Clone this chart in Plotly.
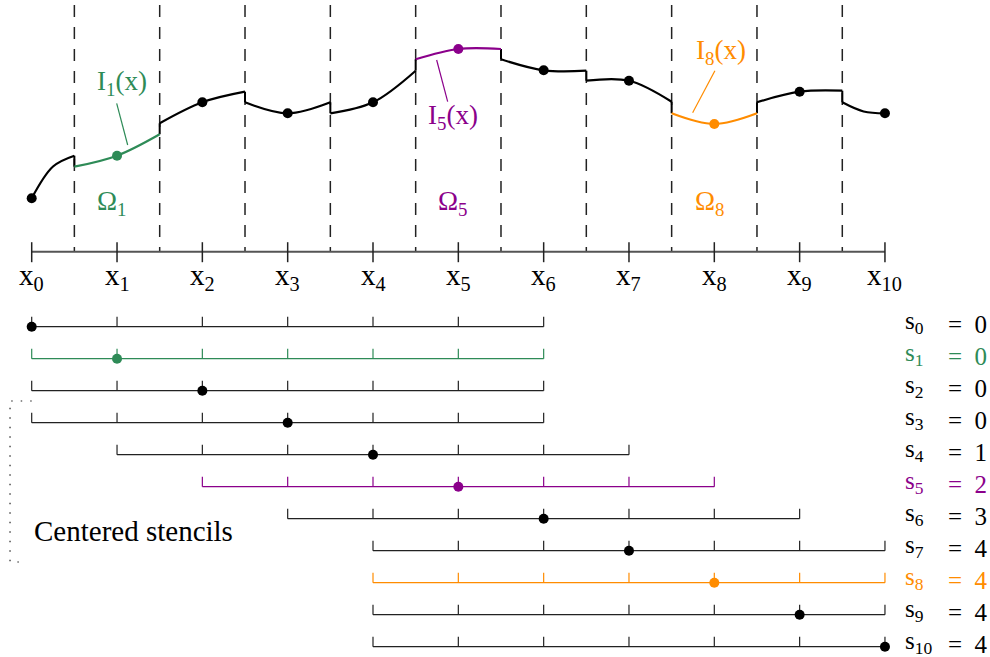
import plotly.graph_objects as go

# ---------------- data ----------------
nodes = list(range(11))
node_labels = [f"x<sub>{i}</sub>" for i in nodes]

# piecewise reconstruction per cell: value at left edge, centre, right edge
cell_values = [
    [53.4, 85.2, 96.0],
    [85.0, 96.0, 117.4],
    [128.4, 149.4, 160.0],
    [149.4, 138.4, 149.4],
    [138.4, 149.4, 181.0],
    [192.4, 202.7, 202.7],
    [192.4, 181.4, 181.0],
    [171.0, 171.0, 150.0],
    [138.4, 127.7, 138.4],
    [149.4, 160.0, 161.0],
    [149.4, 140.2, 138.4],
]
highlight = {1: "#2e8b57", 5: "#8b008b", 8: "#ff8c00"}
stencil_start = [0, 0, 0, 0, 1, 2, 3, 4, 4, 4, 4]
stencil_width = 6
s_labels = [f"s<sub>{i}</sub>" for i in nodes]

# ---------------- layout helpers ----------------
N = 10
row_y0, row_dy = -75.0, -32.0
BLACK = "#000000"
GRAY = "#555555"
FONT = "Liberation Serif"

def cell_span(k):
    return max(k - 0.5, 0), min(k + 0.5, N)

fig = go.Figure()

# dashed cell boundaries
for k in range(N):
    xb = k + 0.5
    fig.add_trace(go.Scatter(x=[xb, xb], y=[246.7, 0], mode="lines",
                             line=dict(color="#222222", width=1.5, dash="12px,10px"),
                             hoverinfo="skip", showlegend=False))

# axis line and node ticks
fig.add_trace(go.Scatter(x=[nodes[0], nodes[-1]], y=[0, 0], mode="lines",
                         line=dict(color=GRAY, width=2), hoverinfo="skip", showlegend=False))
tx, ty = [], []
for i in nodes:
    tx += [i, i, None]
    ty += [9.5, -10.5, None]
fig.add_trace(go.Scatter(x=tx, y=ty, mode="lines", line=dict(color="#222222", width=1.5),
                         hoverinfo="skip", showlegend=False))

# jumps between pieces
jx, jy = [], []
for k in range(N):
    jx += [k + 0.5, k + 0.5, None]
    jy += [cell_values[k][2], cell_values[k + 1][0], None]
fig.add_trace(go.Scatter(x=jx, y=jy, mode="lines", line=dict(color=BLACK, width=2),
                         hoverinfo="skip", showlegend=False))

# pieces
dot_x, dot_y, dot_c = [], [], []
for k in range(N + 1):
    a, b = cell_span(k)
    col = highlight.get(k, BLACK)
    fig.add_trace(go.Scatter(x=[a, (a + b) / 2, b], y=cell_values[k], mode="lines",
                             line=dict(color=col, width=2.2, shape="spline", smoothing=1.0),
                             hoverinfo="skip", showlegend=False))
    if k == 0:
        v = cell_values[k][0]
    elif k == N:
        v = cell_values[k][2]
    else:
        v = cell_values[k][1]
    dot_x.append(nodes[k]); dot_y.append(v); dot_c.append(col)
fig.add_trace(go.Scatter(x=dot_x, y=dot_y, mode="markers", cliponaxis=False,
                         marker=dict(color=dot_c, size=10, line=dict(width=0)),
                         hoverinfo="skip", showlegend=False))

# stencils
sx, sy, sc = [], [], []
for k in nodes:
    y = row_y0 + row_dy * k
    s = stencil_start[k]
    col = highlight.get(k, BLACK)
    px_, py_ = [s, s + stencil_width, None], [y, y, None]
    for j in range(s, s + stencil_width + 1):
        px_ += [j, j, None]
        py_ += [y, y + 10, None]
    fig.add_trace(go.Scatter(x=px_, y=py_, mode="lines",
                             line=dict(color=col if k in highlight else "#222222", width=1.2),
                             hoverinfo="skip", showlegend=False))
    sx.append(nodes[k]); sy.append(y); sc.append(col)
fig.add_trace(go.Scatter(x=sx, y=sy, mode="markers", cliponaxis=False,
                         marker=dict(color=sc, size=10, line=dict(width=0)),
                         hoverinfo="skip", showlegend=False))

# bracket for centered stencils
fig.add_trace(go.Scatter(x=[0.0, -0.254, -0.254, -0.09], y=[-149.3, -149.3, -310.3, -310.3],
                         mode="lines", line=dict(color="#222222", width=1.2, dash="1.5px,8px"),
                         hoverinfo="skip", showlegend=False))

# leader lines
leaders = [((0.996, 148.4), (1.125, 106.7), 1),
           ((4.746, 191.7), (4.875, 150.0), 5),
           ((8.007, 181.0), (7.746, 139.0), 8)]
for (x1, y1), (x2, y2), k in leaders:
    fig.add_trace(go.Scatter(x=[x1, x2], y=[y1, y2], mode="lines",
                             line=dict(color=highlight[k], width=1.2),
                             hoverinfo="skip", showlegend=False))

ann = []
def A(x, y, text, color=BLACK, size=24, xanchor="center"):
    ann.append(dict(x=x, y=y, xref="x", yref="y", text=text, showarrow=False,
                    xanchor=xanchor, yanchor="middle",
                    font=dict(family=FONT, size=size, color=color)))

for i in nodes:
    A(i, -25, node_labels[i], size=29)

A(1.058, 168.7, "I<sub>1</sub>(x)", highlight[1], 27)
A(4.937, 134.7, "I<sub>5</sub>(x)", highlight[5], 27)
A(8.078, 199.7, "I<sub>8</sub>(x)", highlight[8], 27)
A(0.94, 48.7, "Ω<sub>1</sub>", highlight[1], 27)
A(4.937, 48.7, "Ω<sub>5</sub>", highlight[5], 27)
A(7.95, 48.7, "Ω<sub>8</sub>", highlight[8], 27)

for k in nodes:
    y = row_y0 + row_dy * k
    col = highlight.get(k, BLACK)
    A(10.21, y + 4, s_labels[k], col, 25, "left")
    A(10.72, y + 2, f"=&nbsp;&nbsp;{stencil_start[k]}", col, 25, "left")

A(0.0, -279.3, "Centered stencils", BLACK, 29, "left")

fig.update_layout(
    width=990, height=657,
    margin=dict(l=0, r=0, t=0, b=0),
    paper_bgcolor="white", plot_bgcolor="white",
    xaxis=dict(range=[-0.3715, 11.231], visible=False, fixedrange=True),
    yaxis=dict(range=[-405.3, 251.7], visible=False, fixedrange=True),
    annotations=ann,
    showlegend=False,
    hovermode=False,
)

# remove the default page margin so the figure fills the window exactly
fig.write_html("out.html",
               config={"displayModeBar": False, "staticPlot": True},
               post_script="document.body.style.margin='0px';document.body.style.overflow='hidden';")
